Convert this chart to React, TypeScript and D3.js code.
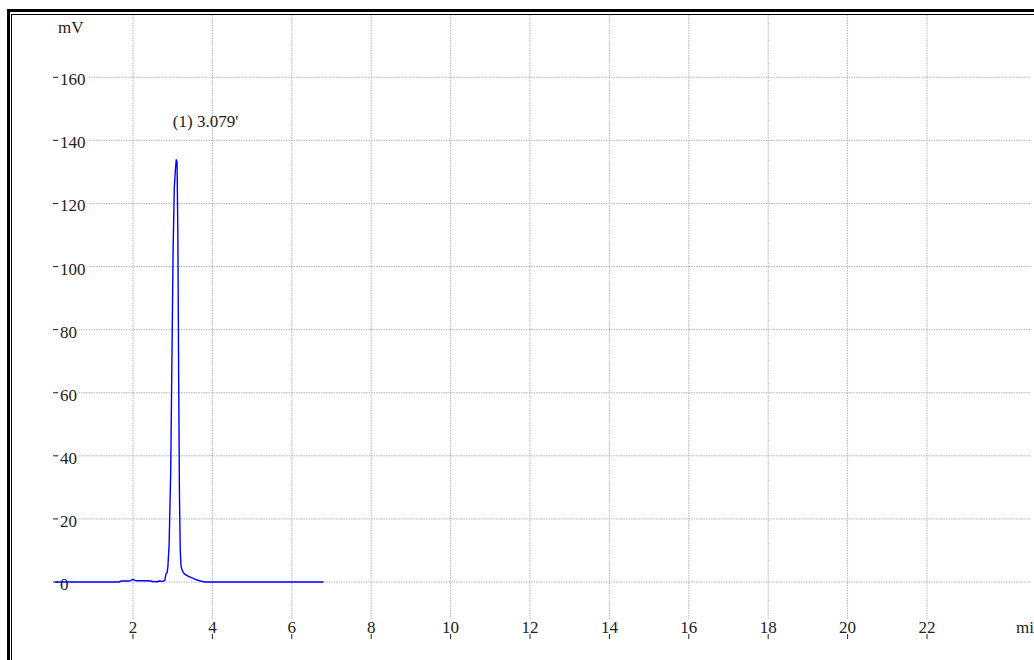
import React from "react";
import * as d3 from "d3";

const xTicks = [2, 4, 6, 8, 10, 12, 14, 16, 18, 20, 22];
const yTicks = [0, 20, 40, 60, 80, 100, 120, 140, 160];

const times = [
  0.04, 1.65, 1.7, 1.9, 1.95, 2.0, 2.05, 2.1, 2.3, 2.45, 2.5, 2.55, 2.6, 2.65,
  2.75, 2.8, 2.83, 2.86, 2.88, 2.91, 2.95, 2.98, 3.01, 3.04, 3.07, 3.09, 3.11,
  3.13, 3.15, 3.17, 3.19, 3.21, 3.23, 3.26, 3.3, 3.4, 3.5, 3.6, 3.7, 3.8, 6.8,
];
const signal = [
  0, 0, 0.3, 0.3, 0.5, 0.8, 0.5, 0.4, 0.4, 0.3, 0.1, 0.2, 0.0, 0.3,
  0.2, 0.5, 2.5, 3, 5, 12, 35, 70, 105, 125, 131, 134, 133,
  110, 65, 28, 10, 5, 4, 3.2, 2.5, 1.8, 1.2, 0.7, 0.3, 0, 0,
];

const peakLabel = "(1) 3.079'";
const peakTime = 3.079;

const W = 1034;
const H = 660;
const FONT = "Liberation Serif, Times New Roman, serif";

export default function App() {
  const x = d3.scaleLinear().domain([0, 2]).range([53.6, 133]);
  const y = d3.scaleLinear().domain([0, 160]).range([582, 77.3]);
  const line = d3
    .line<number>()
    .x((_, i) => x(times[i]))
    .y((d) => y(d));

  const gridColor = "#b4b4b4";
  const ts = { fontFamily: FONT, fontSize: "17px" };

  return (
    <svg
      width={W}
      height={H}
      style={{ position: "absolute", left: 0, top: 0, display: "block", background: "#fff", fontFamily: FONT }}
    >
      <rect x={0} y={0} width={W} height={H} fill="#fff" />
      {xTicks.map((t) => (
        <line
          key={"vx" + t}
          x1={x(t)}
          x2={x(t)}
          y1={15}
          y2={620}
          stroke={gridColor}
          strokeWidth={1}
          strokeDasharray="1.5,1"
        />
      ))}
      {yTicks.map((v) => (
        <line
          key={"hy" + v}
          x1={56}
          x2={1030}
          y1={y(v)}
          y2={y(v)}
          stroke={gridColor}
          strokeWidth={1}
          strokeDasharray="1.5,1"
        />
      ))}
      {yTicks.map((v) => {
        const label = String(v);
        const w = label.length * 8.6;
        return (
          <g key={"yl" + v}>
            <rect x={59} y={y(v) - 6} width={w + 2} height={12} fill="#fff" />
            <line x1={53} x2={58} y1={y(v)} y2={y(v)} stroke="#222" strokeWidth={1} />
            <text x={60} y={y(v) + 8} style={ts} fill="#222">
              {label}
            </text>
          </g>
        );
      })}
      {xTicks.map((t) => (
        <g key={"xl" + t}>
          <text x={x(t)} y={632.5} style={ts} textAnchor="middle" fill="#222">
            {t}
          </text>
          <line x1={x(t)} x2={x(t)} y1={634} y2={639} stroke="#222" strokeWidth={1} />
        </g>
      ))}
      <text x={1016} y={632.5} style={ts} fill="#222">
        min
      </text>
      <text x={58} y={33} style={ts} fill="#222">
        mV
      </text>
      <path d={line(signal) || ""} fill="none" stroke="#0000ff" strokeWidth={1.4} />
      <text x={x(peakTime) - 3} y={127} style={ts} fill="#222">
        {peakLabel}
      </text>
      <line x1={7} x2={W} y1={10.5} y2={10.5} stroke="#000" strokeWidth={3} />
      <line x1={8.5} x2={8.5} y1={9} y2={H} stroke="#000" strokeWidth={3} />
      <line x1={11.5} x2={W} y1={14.5} y2={14.5} stroke="#000" strokeWidth={1} />
      <line x1={11.5} x2={11.5} y1={14} y2={H} stroke="#000" strokeWidth={1} />
    </svg>
  );
}
